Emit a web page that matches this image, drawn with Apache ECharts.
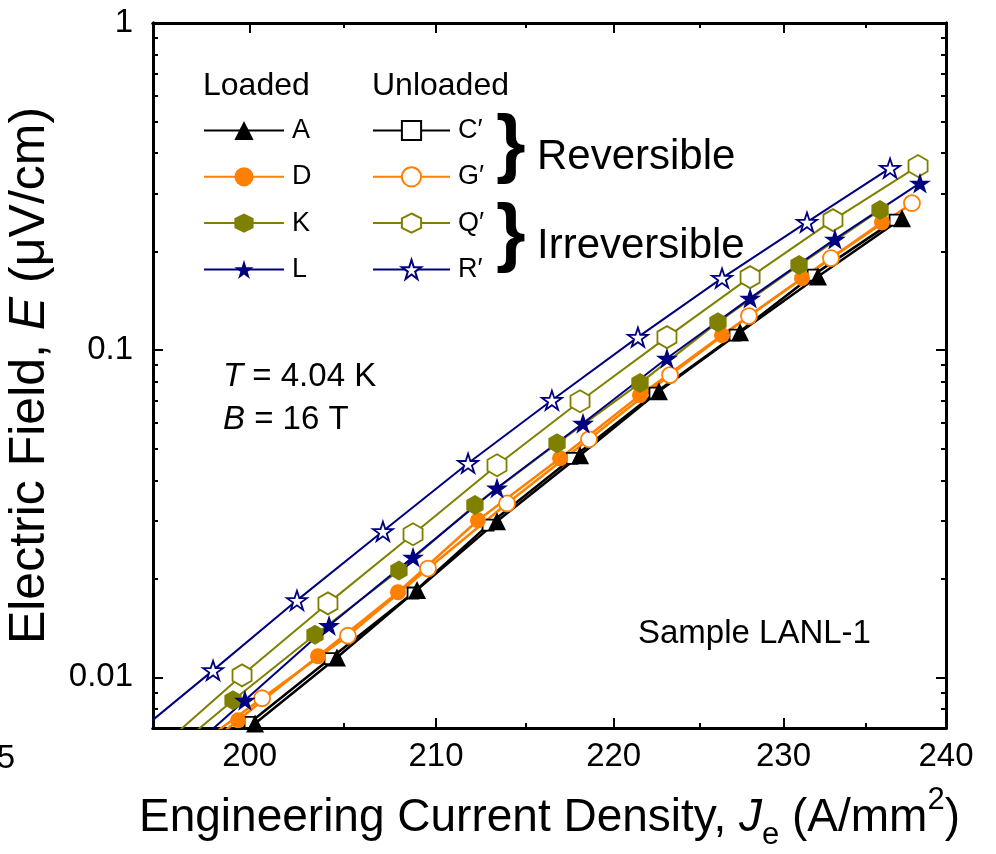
<!DOCTYPE html>
<html>
<head>
<meta charset="utf-8">
<script src="https://cdn.jsdelivr.net/npm/echarts@6/dist/echarts.min.js"></script>
<style>
  html, body { margin: 0; padding: 0; background: #fff; }
  #chart { width: 996px; height: 854px; }
</style>
</head>
<body>
<div id="chart"></div>
<script>
// current density J_e (A/mm2) and electric field E (uV/cm)
// first point of each set lies outside the frame, the line just runs in from it
const jA = [196.02, 200.28, 204.62, 208.96, 213.38, 218.07, 222.62, 227.40, 232.09, 237.25];
const eA = [0.00451, 0.00723, 0.0115, 0.0185, 0.0300, 0.0477, 0.0749, 0.1135, 0.168, 0.253];
const jD = [195.26, 199.39, 203.61, 207.92, 212.32, 216.93, 221.52, 226.33, 231.12, 236.01];
const eD = [0.00471, 0.00739, 0.0116, 0.0182, 0.0302, 0.0467, 0.0728, 0.1111, 0.166, 0.246];
const jK = [195.41, 199.13, 203.45, 207.97, 212.15, 216.76, 221.52, 226.09, 230.94, 235.89];
const eK = [0.00557, 0.00851, 0.0135, 0.0212, 0.0336, 0.0519, 0.0793, 0.1218, 0.182, 0.268];
const jL = [195.41, 199.75, 204.20, 208.74, 213.38, 218.24, 223.09, 228.00, 233.12, 238.37];
const eL = [0.00502, 0.00851, 0.0144, 0.0233, 0.0379, 0.0598, 0.0945, 0.1442, 0.2185, 0.324];
const jC = [195.77, 200.02, 204.25, 208.74, 212.88, 217.61, 222.39, 227.10, 231.79, 236.82];
const eC = [0.00451, 0.00728, 0.0114, 0.0181, 0.0292, 0.0467, 0.0739, 0.1111, 0.1696, 0.2497];
const jG = [196.18, 200.65, 205.21, 209.56, 213.94, 218.58, 223.27, 227.93, 232.88, 237.87];
const eG = [0.00554, 0.00863, 0.0134, 0.0215, 0.0340, 0.0534, 0.0839, 0.1271, 0.1911, 0.2814];
const jQ = [195.20, 199.60, 204.14, 208.74, 213.38, 218.07, 223.09, 228.00, 233.00, 238.25];
const eQ = [0.00598, 0.01014, 0.01683, 0.02737, 0.04449, 0.06983, 0.1096, 0.1672, 0.2497, 0.3653];
const jR = [193.73, 198.09, 202.49, 207.10, 211.77, 216.47, 221.40, 226.33, 231.42, 236.51];
const eR = [0.00642, 0.01050, 0.01719, 0.02795, 0.04512, 0.07032, 0.1096, 0.1661, 0.2462, 0.3602];

const xMajor = [200, 210, 220, 230, 240];
const xMinor = [205, 215, 225, 235];
const yMajor = [0.01, 0.1, 1];
const yMinor = [0.007, 0.008, 0.009, 0.02, 0.03, 0.04, 0.05, 0.06, 0.07, 0.08, 0.09,
                0.2, 0.3, 0.4, 0.5, 0.6, 0.7, 0.8, 0.9];

const loadedNames = ['A', 'D', 'K', 'L'];
const unloadedNames = ['C\u2032', 'G\u2032', 'Q\u2032', 'R\u2032'];

const font = 'Liberation Sans, Arial, Helvetica, sans-serif';
const hexagon = 'path://M0,-1L0.866,-0.5L0.866,0.5L0,1L-0.866,0.5L-0.866,-0.5Z';
const star = 'path://M0,-1L0.2245,-0.309L0.9511,-0.309L0.3633,0.118L0.5878,0.809L0,0.382L-0.5878,0.809L-0.3633,0.118L-0.9511,-0.309L-0.2245,-0.309Z';

function line(name, js, es, color, symbol, size, open, width) {
  return {
    name: name,
    type: 'line',
    xAxisIndex: 0,
    yAxisIndex: 0,
    data: js.map((j, i) => [j, es[i]]),
    symbol: symbol,
    symbolSize: size,
    symbolKeepAspect: true,
    showAllSymbol: true,
    clip: true,
    color: color,
    lineStyle: { color: color, width: width },
    itemStyle: open
      ? { color: '#fff', borderColor: color, borderWidth: 1.8 }
      : { color: color, borderWidth: 0 }
  };
}

function xAx(pos, ticks, len, withLabels) {
  return {
    type: 'log', min: 195, max: 240, position: pos,
    axisLine: { show: true, onZero: false, lineStyle: { color: '#000', width: 3 } },
    axisTick: { show: true, inside: true, length: len, customValues: ticks,
                lineStyle: { color: '#000', width: 2 } },
    axisLabel: withLabels ? {
      customValues: ticks, margin: 12, color: '#000', fontSize: 33, fontFamily: font,
      formatter: v => String(Math.round(v))
    } : { show: false },
    splitLine: { show: false },
    minorTick: { show: false }
  };
}

function yAx(pos, ticks, len, withLabels) {
  return {
    type: 'log', min: 0.007, max: 1, position: pos,
    axisLine: { show: true, onZero: false, lineStyle: { color: '#000', width: 3 } },
    axisTick: { show: true, inside: true, length: len, customValues: ticks,
                lineStyle: { color: '#000', width: 2 } },
    axisLabel: withLabels ? {
      customValues: ticks, margin: 20, color: '#000', fontSize: 33, fontFamily: font,
      formatter: v => String(+Number(v).toPrecision(3))
    } : { show: false },
    splitLine: { show: false },
    minorTick: { show: false }
  };
}

const xBottom = xAx('bottom', xMajor, 10, true);
xBottom.name = 'Engineering Current Density, {i|J}{sub|e} (A/mm{sup|2})';
xBottom.nameLocation = 'middle';
xBottom.nameGap = 57;
xBottom.nameTextStyle = {
  color: '#000', fontSize: 46, fontFamily: font, lineHeight: 66,
  rich: {
    i: { fontStyle: 'italic', fontSize: 46, fontFamily: font, lineHeight: 66, color: '#000' },
    sub: { fontSize: 31, fontFamily: font, lineHeight: 30, verticalAlign: 'bottom', color: '#000' },
    sup: { fontSize: 31, fontFamily: font, lineHeight: 42, verticalAlign: 'top', color: '#000' }
  }
};

const yLeft = yAx('left', yMajor, 10, true);
yLeft.name = 'Electric Field, {i|E} (\u03bcV/cm)';
yLeft.nameLocation = 'middle';
yLeft.nameGap = 80;
yLeft.nameTextStyle = {
  color: '#000', fontSize: 50, fontFamily: font, lineHeight: 56,
  rich: { i: { fontStyle: 'italic', fontSize: 50, fontFamily: font, lineHeight: 56, color: '#000' } }
};

const legendBase = {
  orient: 'vertical', top: 117, padding: 0,
  itemHeight: 24, itemGap: 19.3, selectedMode: false,
  textStyle: { fontSize: 27, fontFamily: font, color: '#000', lineHeight: 24, padding: [0, 0, 0, 3] }
};

const txt = (s, x, y, size, extra) => ({
  type: 'text', x: x, y: y, silent: true,
  style: Object.assign({ text: s, fill: '#000', fontSize: size, fontFamily: font,
                         align: 'left', verticalAlign: 'middle' }, extra || {})
});

const chart = echarts.init(document.getElementById('chart'), null, { renderer: 'canvas' });
chart.setOption({
  animation: false,
  backgroundColor: '#fff',
  grid: { left: 153, right: 50, top: 23, bottom: 126, containLabel: false, outerBoundsMode: 'none' },
  xAxis: [xBottom, xAx('bottom', xMinor, 5, false), xAx('top', xMajor, 10, false), xAx('top', xMinor, 5, false)],
  yAxis: [yLeft, yAx('left', yMinor, 5, false), yAx('right', yMajor, 10, false), yAx('right', yMinor, 5, false)],
  legend: [
    Object.assign({}, legendBase, { left: 203, itemWidth: 80, data: loadedNames }),
    Object.assign({}, legendBase, { left: 372, itemWidth: 77, data: unloadedNames })
  ],
  graphic: [
    txt('Loaded', 203, 86, 32),
    txt('Unloaded', 372, 86, 32),
    txt('}', 496, 147, 76, { fontWeight: 'bold' }),
    txt('}', 496, 236, 76, { fontWeight: 'bold' }),
    txt('Reversible', 537, 157, 42),
    txt('Irreversible', 537, 246, 42),
    txt('{i|T} = 4.04 K', 223, 377, 33,
        { rich: { i: { fontStyle: 'italic', fontSize: 33, fontFamily: font, fill: '#000' } } }),
    txt('{i|B} = 16 T', 223, 420, 33,
        { rich: { i: { fontStyle: 'italic', fontSize: 33, fontFamily: font, fill: '#000' } } }),
    txt('Sample LANL-1', 638, 634, 33),
    // the 195 label of the x axis, cut by the left edge as in the source figure
    txt('195', 15, 759, 33, { align: 'right' })
  ],
  series: [
    line('C\u2032', jC, eC, '#000000', 'rect', 11, true, 2.5),
    line('G\u2032', jG, eG, '#ff8000', 'circle', 16, true, 2.5),
    line('Q\u2032', jQ, eQ, '#808000', hexagon, 22, true, 2),
    line('R\u2032', jR, eR, '#000080', star, 20, true, 2),
    line('A', jA, eA, '#000000', 'triangle', 18, false, 2.5),
    line('D', jD, eD, '#ff8000', 'circle', 16, false, 2.5),
    line('K', jK, eK, '#808000', hexagon, 20, false, 2),
    line('L', jL, eL, '#000080', star, 22, false, 2)
  ]
});
</script>
</body>
</html>
